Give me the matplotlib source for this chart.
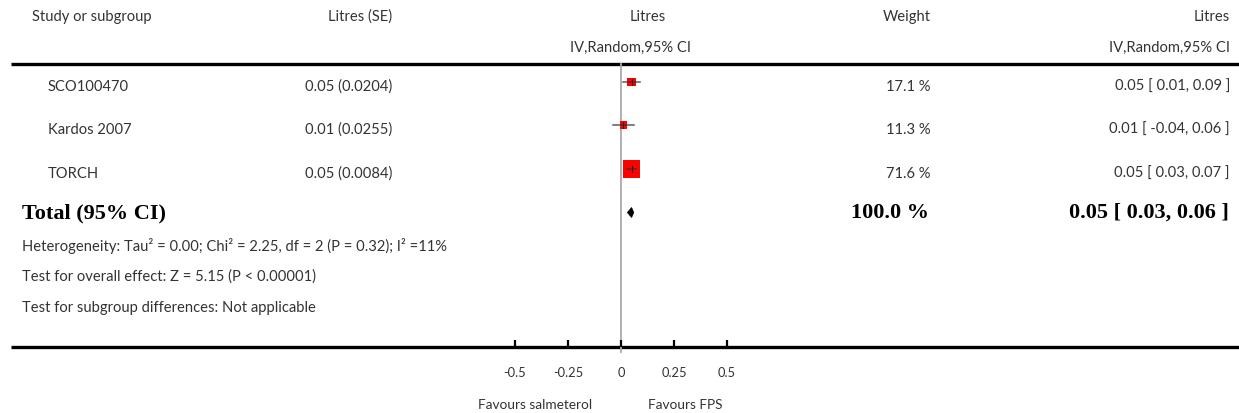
import numpy as np
import matplotlib
matplotlib.use('Agg')
import matplotlib.pyplot as plt
from matplotlib.patches import Polygon

# data
studies = ['SCO100470', 'Kardos 2007', 'TORCH']
est_se = ['0.05 (0.0204)', '0.01 (0.0255)', '0.05 (0.0084)']
estimate = [0.05, 0.01, 0.05]
ci_low = [0.01, -0.04, 0.03]
ci_high = [0.09, 0.06, 0.07]
weights = [17.1, 11.3, 71.6]
weight_lbl = ['17.1 %', '11.3 %', '71.6 %']
ci_lbl = ['0.05 [ 0.01, 0.09 ]', '0.01 [ -0.04, 0.06 ]', '0.05 [ 0.03, 0.07 ]']

total_est = 0.05
total_low = 0.03
total_high = 0.06
total_weight = '100.0 %'
total_ci = '0.05 [ 0.03, 0.06 ]'

footer = ['Heterogeneity: Tau\u00b2 = 0.00; Chi\u00b2 = 2.25, df = 2 (P = 0.32); I\u00b2 =11%',
          'Test for overall effect: Z = 5.15 (P < 0.00001)',
          'Test for subgroup differences: Not applicable']

xticks = [-0.5, -0.25, 0, 0.25, 0.5]
xtick_lbl = ['-0.5', '-0.25', '0', '0.25', '0.5']

W, H = 1239, 413
fs = 10.6
sans = ['Lato', 'DejaVu Sans']
serif = ['Liberation Serif']
txtc = '#333333'

fig = plt.figure(figsize=(W/100, H/100), dpi=100)

# background axes in pixel units for the table
bg = fig.add_axes([0, 0, 1, 1])
bg.set_xlim(0, W)
bg.set_ylim(H, 0)
bg.axis('off')

def t(x, y, s, ha='left', size=fs):
    bg.text(x, y, s, ha=ha, va='center', size=size, family=sans, color=txtc)

# header
t(32, 17, 'Study or subgroup')
t(392, 17, 'Litres (SE)', 'right')
t(648, 17, 'Litres', 'center')
t(630, 48, 'IV,Random,95% CI', 'center')
t(931, 17, 'Weight', 'right')
t(1230, 17, 'Litres', 'right')
t(1230, 48, 'IV,Random,95% CI', 'right')

bg.plot([11, W], [64, 64], color='k', lw=2.4, solid_capstyle='butt')
bg.plot([11, W], [347, 347], color='k', lw=2.4, solid_capstyle='butt')

row_y = [87, 130, 174]
for k in range(len(studies)):
    y = row_y[k]
    t(48, y, studies[k])
    t(392, y, est_se[k], 'right')
    t(931, y, weight_lbl[k], 'right')
    t(1230, y, ci_lbl[k], 'right')

bg.text(22, 213, 'Total (95% CI)', ha='left', va='center', size=16, family=serif,
        weight='bold', color='k')
bg.text(929, 213, total_weight, ha='right', va='center', size=16, family=serif,
        weight='bold', color='k')
bg.text(1229, 213, total_ci, ha='right', va='center', size=16, family=serif,
        weight='bold', color='k')

for k, line in enumerate(footer):
    t(22, 246 + 31*k, line)

t(535, 405, 'Favours salmeterol', 'center', 9.8)
t(685, 405, 'Favours FPS', 'center', 9.8)

# forest axes: -0.5..0.5 over the plot column
x0, x1 = 515, 727
ax = fig.add_axes([x0/W, 0, (x1-x0)/W, 1])
ax.set_xlim(-0.5, 0.5)
ax.set_ylim(H, 0)
ax.axis('off')

ax.plot([0, 0], [64, 352], color='#aaaaaa', lw=1.3, zorder=1)

mark_y = [82, 125, 169]
for k in range(len(studies)):
    y = mark_y[k]
    side = 2.1*np.sqrt(weights[k])*0.72
    ax.scatter([estimate[k]], [y], marker='s', s=side**2, color='#ff0000',
               edgecolors='none', zorder=2)
    ax.plot([ci_low[k], ci_high[k]], [y, y], color='#333333', lw=1.1, alpha=0.8, zorder=3)
    ax.plot([estimate[k], estimate[k]], [y-3, y+3], color='#222222', lw=0.8, zorder=3)

ax.add_patch(Polygon([[total_low, 212.5], [total_est, 207.5], [total_high, 212.5],
                      [total_est, 217.5]], fc='k', ec='k', lw=0.5, zorder=3))

for tk, lbl in zip(xticks, xtick_lbl):
    ax.plot([tk, tk], [340, 347], color='k', lw=1.6, solid_capstyle='butt', clip_on=False)
    ax.text(tk, 373, lbl, ha='center', va='center', size=9.3, family=sans, color=txtc)

fig.savefig('out.png', dpi=100)
plt.close(fig)
